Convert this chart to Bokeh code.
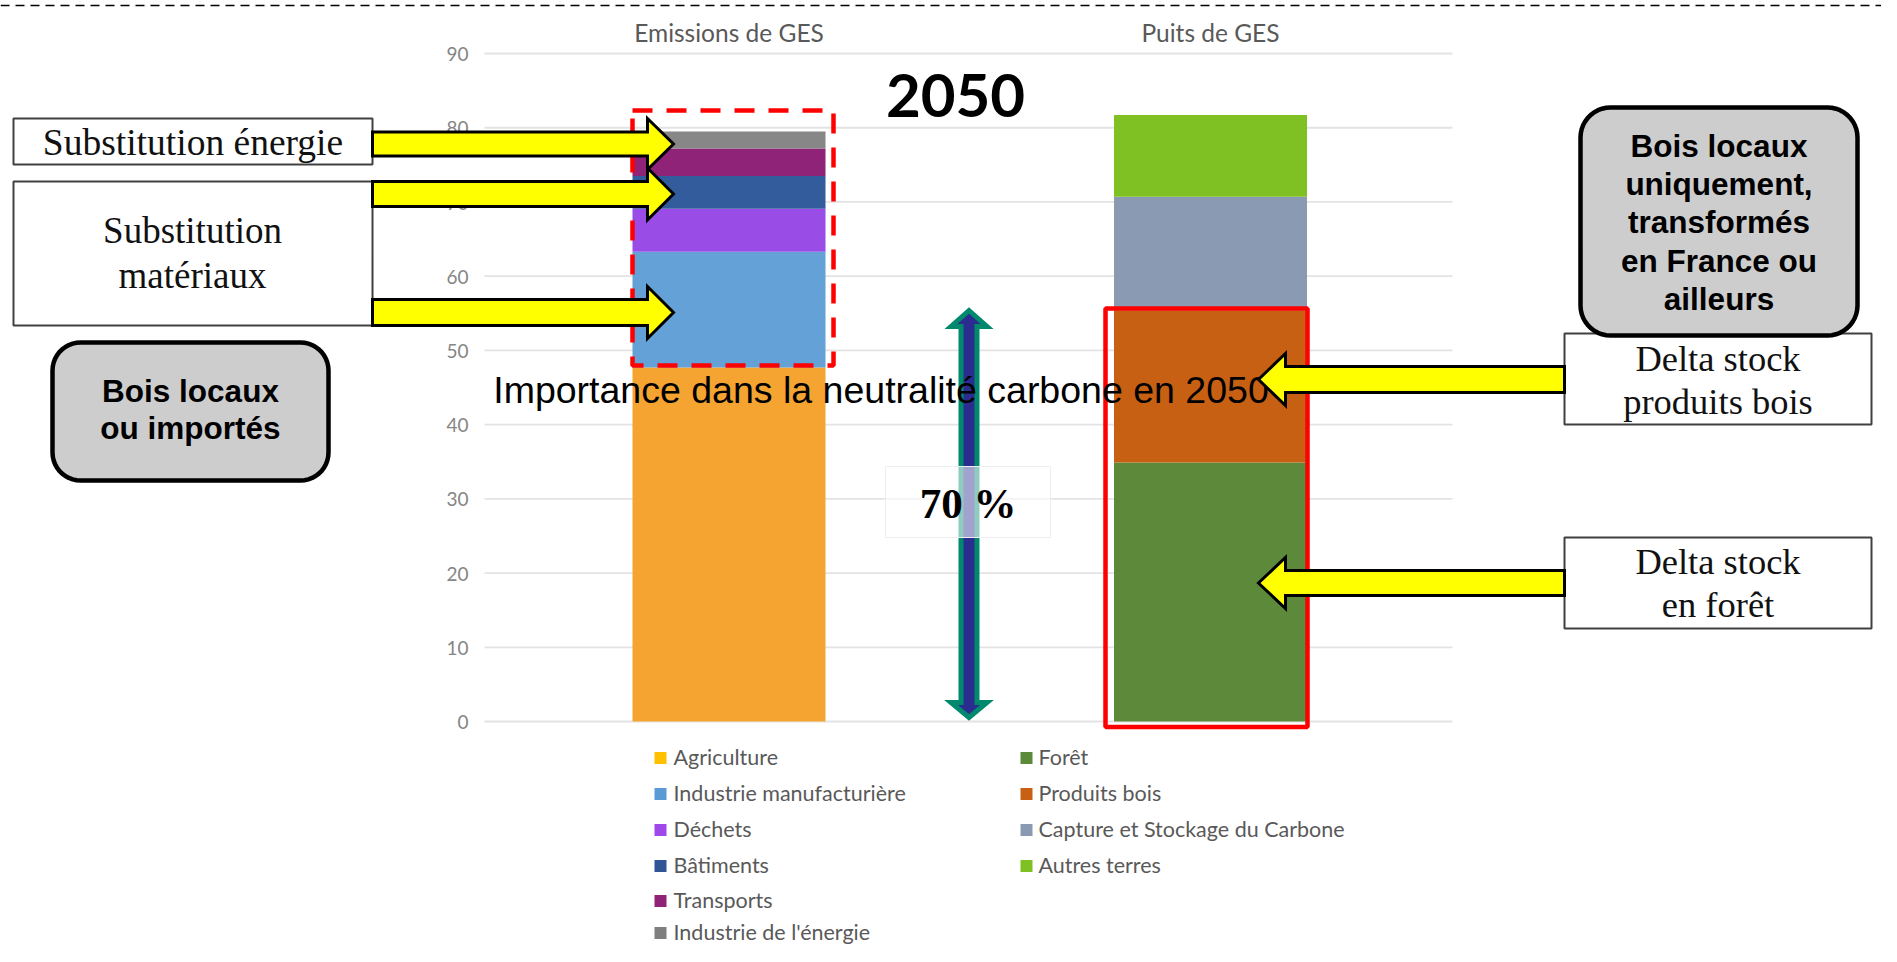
import numpy as np
from bokeh.plotting import figure
from bokeh.models import Range1d
from bokeh.core.properties import value
from bokeh.embed import file_html
from bokeh.resources import INLINE

# ---------------- data ----------------
categories = ["Emissions de GES", "Puits de GES"]
emission_sectors = ["Agriculture", "Industrie manufacturière", "Déchets",
                    "Bâtiments", "Transports", "Industrie de l'énergie"]
emission_values = [47.7, 15.6, 5.8, 4.4, 3.7, 2.3]
sink_sectors = ["Forêt", "Produits bois", "Capture et Stockage du Carbone", "Autres terres"]
sink_values = [34.9, 20.5, 15.3, 11.0]
y_ticks = [0, 10, 20, 30, 40, 50, 60, 70, 80, 90]
year_label = "2050"
neutrality_label = "Importance dans la neutralité carbone en 2050"
share_label = "70 %"
note_energy = ["Substitution énergie"]
note_materials = ["Substitution", "matériaux"]
note_left_wood = ["Bois locaux", "ou importés"]
note_right_wood = ["Bois locaux", "uniquement,", "transformés", "en France ou", "ailleurs"]
note_products = ["Delta stock", "produits bois"]
note_forest = ["Delta stock", "en forêt"]

# ---------------- styles ----------------
emission_colors = ["#F5A331", "#63A1D6", "#9A4DE6", "#335C9C", "#8F2377", "#878787"]
emission_legend_colors = ["#FFC000", "#5B9BD5", "#9E48EC", "#2F5597", "#8F2377", "#7F7F7F"]
sink_colors = ["#5C893A", "#C86014", "#8A9AB2", "#7FC022"]

# ---------------- geometry (reference pixel frame) ----------------
W, H = 1881, 946
OY = 5               # vertical shift of the reference frame (px)
ZERO_PY = 726.0
PXU = 7.422          # reference px per unit
CAT0_PX = 728.5      # centre of first category
CAT_STEP = 481.5     # px between categories
BAR_W = 193.0 / CAT_STEP
K = 0.34             # baseline correction (fraction of font size)


def X(px):
    return (px - CAT0_PX) / CAT_STEP


def Y(py):
    return (ZERO_PY - py) / PXU


def F(sz):
    return f"{sz:.1f}px"


p = figure(width=W, height=H,
           x_range=Range1d(X(0), X(W)), y_range=Range1d(Y(OY + H), Y(OY)),
           output_backend="svg", toolbar_location=None,
           x_axis_location=None, y_axis_location=None, min_border=0,
           outline_line_color=None, background_fill_color="white",
           border_fill_color="white")
p.xgrid.visible = False
p.ygrid.visible = False


def txt(xpx, ypx, s, font, size, color="black", bold=False, align="center"):
    p.text(x=[X(xpx)], y=[Y(ypx - K * size)], text=[s], text_font=value(font),
           text_font_size=F(size), text_color=color, text_align=align,
           text_baseline="alphabetic",
           text_font_style="bold" if bold else "normal")


def box(l, r, t, b, fill="white", line="#404040", lw=2.0, dash="solid", alpha=1.0):
    p.quad(left=[X(l)], right=[X(r)], top=[Y(t)], bottom=[Y(b)],
           fill_color=fill, fill_alpha=alpha, line_color=line,
           line_width=lw, line_dash=dash)


def rounded(l, r, t, b, rad, fill, line, lw):
    xs, ys = [], []
    corners = [(r - rad, t + rad, -90, 0), (r - rad, b - rad, 0, 90),
               (l + rad, b - rad, 90, 180), (l + rad, t + rad, 180, 270)]
    for cx, cy, a0, a1 in corners:
        for a in np.linspace(np.radians(a0), np.radians(a1), 12):
            xs.append(X(cx + rad * np.cos(a)))
            ys.append(Y(cy + rad * np.sin(a)))
    p.patch(xs, ys, fill_color=fill, line_color=line, line_width=lw, line_join="round")


def block_arrow(x0, base, tip, cy, sh, hh):
    pts = [(x0, cy - sh), (base, cy - sh), (base, cy - hh), (tip, cy),
           (base, cy + hh), (base, cy + sh), (x0, cy + sh)]
    p.patch([X(a) for a, _ in pts], [Y(b) for _, b in pts],
            fill_color="#FFFF00", line_color="black", line_width=3,
            line_join="miter")


# top dashed separator
p.segment(x0=[X(0)], x1=[X(W)], y0=[Y(10)], y1=[Y(10)],
          line_color="black", line_width=1.5, line_dash="9 6")

# gridlines & tick labels
TICK_FS = 19
p.segment(x0=X(484), x1=X(1452), y0=y_ticks, y1=y_ticks,
          line_color="#e3e3e3", line_width=1.8)
p.text(x=X(468), y=[t - (7.0 - K * TICK_FS) / PXU for t in y_ticks],
       text=[str(t) for t in y_ticks],
       text_font=value("Lato"), text_font_size=F(TICK_FS), text_color="#858585",
       text_align="right", text_baseline="alphabetic")

# category labels on top
CAT_FS = 24.5
p.text(x=list(range(len(categories))), y=Y(45.5 - K * CAT_FS), text=categories,
       text_font=value("Lato"), text_font_size=F(CAT_FS), text_color="#595959",
       text_align="center", text_baseline="alphabetic")

# stacked bars
em_top = np.cumsum(emission_values)
em_bot = em_top - np.array(emission_values)
p.vbar(x=[categories.index("Emissions de GES")] * len(emission_values),
       bottom=list(em_bot), top=list(em_top), width=BAR_W,
       fill_color=emission_colors, line_color=None)
sk_top = np.cumsum(sink_values)
sk_bot = sk_top - np.array(sink_values)
p.vbar(x=[categories.index("Puits de GES")] * len(sink_values),
       bottom=list(sk_bot), top=list(sk_top), width=BAR_W,
       fill_color=sink_colors, line_color=None)

# year
txt(955, 120, year_label, "Lato", 60, bold=True)

# middle double arrow
c = 968.5
hs, hh = 8, 18
pts = [(c, 315), (c + hh, 331), (c + hs, 331), (c + hs, 707), (c + hh, 707), (c, 722),
       (c - hh, 707), (c - hs, 707), (c - hs, 331), (c - hh, 331)]
p.patch([X(a) for a, _ in pts], [Y(b) for _, b in pts], fill_color="#2B2C8F",
        line_color="#00896C", line_width=5, line_join="miter")

# translucent box with 70 %
box(885, 1050, 471, 542, fill="white", line="#eeeeee", lw=1, alpha=0.56)
txt(967.5, 522.5, share_label, "Liberation Serif", 43, bold=True)

# red frames
box(632, 833, 115, 370, fill=None, line="#FF0000", lw=4.5, dash="20 14")
box(1105, 1307, 313, 731.5, fill=None, line="#FF0000", lw=4.5)

# neutrality text
txt(880.5, 407, neutrality_label, "Liberation Sans", 37.5)

# left boxes and arrows
SERIF_FS = 37
box(13, 372, 123, 169)
txt(192.5, 160, note_energy[0], "Liberation Serif", 37.5, color="#111111")
box(13, 372, 186, 330)
txt(192, 248, note_materials[0], "Liberation Serif", SERIF_FS, color="#111111")
txt(192, 293, note_materials[1], "Liberation Serif", SERIF_FS, color="#111111")
block_arrow(372, 647, 673, 148.5, 12, 25.5)
block_arrow(372, 647, 673, 198.5, 12.5, 26)
block_arrow(372, 647, 673, 317, 13, 26)

rounded(52, 328, 347, 485, 28, "#CDCDCD", "black", 4.5)
txt(190, 406.5, note_left_wood[0], "Liberation Sans", 31.5, bold=True)
txt(190, 443.5, note_left_wood[1], "Liberation Sans", 31.5, bold=True)

# right boxes and arrows
box(1564, 1871, 338, 429)
txt(1717.5, 375, note_products[0], "Liberation Serif", 36.5, color="#111111")
txt(1717.5, 418, note_products[1], "Liberation Serif", 36.5, color="#111111")
box(1564, 1871, 542, 633)
txt(1717.5, 578, note_forest[0], "Liberation Serif", 36.5, color="#111111")
txt(1717.5, 621.5, note_forest[1], "Liberation Serif", 36.5, color="#111111")
block_arrow(1564, 1285, 1258, 384, 13, 26)
block_arrow(1564, 1285, 1258, 587.5, 12.5, 25.5)

rounded(1580, 1857, 112, 340, 30, "#CDCDCD", "black", 4.5)
for yb, s in zip([161, 199, 237.5, 276, 314], note_right_wood):
    txt(1718.5, yb, s, "Liberation Sans", 31.5, bold=True)

# legend (two columns)
LEG_FS = 21.5
rows = [769, 805, 841, 877, 912, 944]
p.scatter(x=X(660), y=[Y(r - 6.5) for r in rows[:len(emission_sectors)]],
          marker="square", size=12, fill_color=emission_legend_colors, line_color=None)
p.text(x=X(673), y=[Y(r - K * LEG_FS) for r in rows[:len(emission_sectors)]],
       text=emission_sectors,
       text_font=value("Lato"), text_font_size=F(LEG_FS), text_color="#595959",
       text_align="left", text_baseline="alphabetic")
p.scatter(x=X(1026), y=[Y(r - 6.5) for r in rows[:len(sink_sectors)]],
          marker="square", size=12, fill_color=sink_colors, line_color=None)
p.text(x=X(1038), y=[Y(r - K * LEG_FS) for r in rows[:len(sink_sectors)]],
       text=sink_sectors,
       text_font=value("Lato"), text_font_size=F(LEG_FS), text_color="#595959",
       text_align="left", text_baseline="alphabetic")

open("out.html", "w").write(file_html(p, INLINE))
